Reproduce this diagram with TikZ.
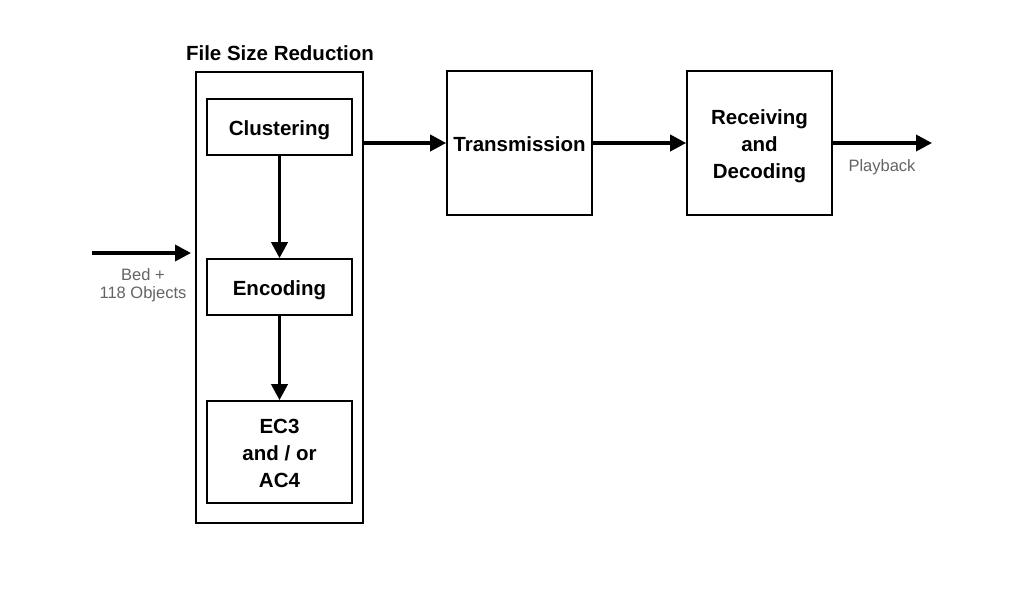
\documentclass[tikz,border=0pt]{standalone}
\usepackage{fontspec}
\setmainfont{Liberation Sans}
\usetikzlibrary{arrows.meta}
\definecolor{lbl}{RGB}{100,100,100}
\newcommand{\topstrut}[1]{\rule{0pt}{#1}}
\begin{document}
\begin{tikzpicture}[x=1pt,y=-1pt,
  blk/.style={draw,line width=1.6pt,inner sep=0pt,font=\fontsize{20.5}{27}\selectfont\bfseries,align=center},
  arr/.style={line width=3.6pt,-{Triangle[length=16pt,width=16pt]}},
  lab/.style={text=lbl,font=\fontsize{16.5}{18}\selectfont,align=center,inner sep=0pt}]
\useasboundingbox (0,0) rectangle (1024,606);
\node[blk,minimum width=167pt,minimum height=451pt] (outer) at (279.5,297.5) {};
\node[font=\fontsize{20.5}{24}\selectfont\bfseries,inner sep=0pt] (title) at (280,53) {File Size Reduction};
\node[blk,minimum width=145pt,minimum height=56pt] (clu) at (279.5,127) {\topstrut{21pt}Clustering};
\node[blk,minimum width=145pt,minimum height=56pt] (enc) at (279.5,287) {\topstrut{21pt}Encoding};
\node[blk,minimum width=145pt,minimum height=102pt] (ec3) at (279.5,452) {\topstrut{17pt}EC3\\and / or\\AC4};
\node[blk,minimum width=145pt,minimum height=144pt] (tx) at (519.5,143) {\topstrut{17pt}Transmission};
\node[blk,minimum width=145pt,minimum height=144pt] (rx) at (759.5,143) {\topstrut{21pt}Receiving\\and\\Decoding};
\coordinate (in) at (92,253);
\coordinate (inend) at (191,253);
\coordinate (outend) at (932,143);
\node[lab] (bed) at (143,285) {Bed +\\118 Objects};
\node[lab] (play) at (882,167) {Playback};
\draw[arr] (in) -- (inend);
\draw[arr] (clu.south) -- (enc.north);
\draw[arr] (enc.south) -- (ec3.north);
\draw[arr] (outer.east |- tx.west) -- (tx.west);
\draw[arr] (tx.east) -- (rx.west);
\draw[arr] (rx.east) -- (outend);
\end{tikzpicture}
\end{document}
